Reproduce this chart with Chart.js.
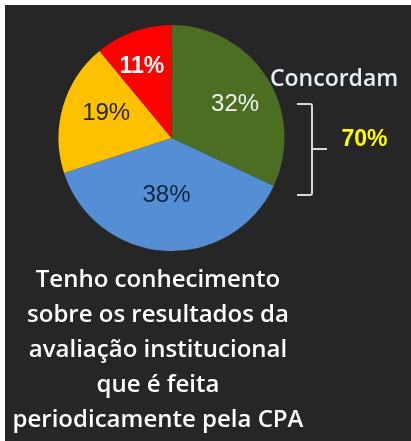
<!DOCTYPE html>
<html>
<head>
<meta charset="utf-8">
<script src="https://cdn.jsdelivr.net/npm/chart.js@4/dist/chart.umd.min.js"></script>
<style>
  html, body { margin: 0; padding: 0; background: #ffffff; width: 411px; height: 441px; overflow: hidden; }
  #box { position: absolute; left: 5px; top: 5px; width: 406px; height: 436px; background: #262626; }
  canvas { display: block; }
</style>
</head>
<body>
<div id="box"><canvas id="c" width="406" height="436"></canvas></div>
<script>
// ---- data ----
const categories = ['Concordo totalmente', 'Concordo parcialmente', 'Discordo parcialmente', 'Discordo totalmente'];
const values = [32, 38, 19, 11];
const agreeGroup = [0, 1];               // slices summed in the "Concordam" bracket
const groupLabel = 'Concordam';
const titleLines = ['Tenho conhecimento', 'sobre os resultados da', 'avaliação institucional', 'que é feita', 'periodicamente pela CPA'];

// ---- styles ----
const sliceColors = ['#4b6e23', '#558ed5', '#ffc000', '#ff0000'];
const labelColors = ['#f2f2f2', '#0f243e', '#262626', '#ffffff'];
const labelWeights = ['normal', 'normal', 'normal', 'bold'];
const labelRadius = [0.64, 0.50, 0.62, 0.69];
const labelAngleShift = [4, 1.5, 5, -2.5]; // degrees

const labelsPlugin = {
  id: 'annot',
  afterDatasetsDraw(chart) {
    const ctx = chart.ctx;
    const meta = chart.getDatasetMeta(0);
    ctx.save();
    ctx.textAlign = 'center';
    ctx.textBaseline = 'middle';
    meta.data.forEach((arc, i) => {
      const p = arc.getProps(['x', 'y', 'startAngle', 'endAngle', 'outerRadius'], true);
      const mid = (p.startAngle + p.endAngle) / 2 + labelAngleShift[i] * Math.PI / 180;
      const r = p.outerRadius * labelRadius[i];
      const x = p.x + Math.cos(mid) * r;
      const y = p.y + Math.sin(mid) * r;
      ctx.fillStyle = labelColors[i];
      ctx.font = labelWeights[i] + ' ' + (labelWeights[i] === 'bold' ? 23 : 24) + 'px "Liberation Sans", Arial, sans-serif';
      ctx.fillText(values[i] + '%', x, y + 1);
    });

    // group label
    ctx.textAlign = 'left';
    ctx.textBaseline = 'alphabetic';
    ctx.fillStyle = '#e6eef8';
    ctx.font = '600 23px "Open Sans", sans-serif';
    ctx.fillText(groupLabel, 265, 81);

    // bracket
    ctx.strokeStyle = '#d9d9d9';
    ctx.lineWidth = 2;
    ctx.lineJoin = 'round';
    ctx.beginPath();
    ctx.moveTo(292, 99);
    ctx.lineTo(305, 99);
    ctx.quadraticCurveTo(307, 99, 307, 101);
    ctx.lineTo(307, 188);
    ctx.quadraticCurveTo(307, 190, 305, 190);
    ctx.lineTo(292, 190);
    ctx.moveTo(307, 144);
    ctx.lineTo(322, 144);
    ctx.stroke();

    // group sum
    const sum = agreeGroup.reduce((s, k) => s + values[k], 0);
    ctx.textAlign = 'center';
    ctx.textBaseline = 'middle';
    ctx.fillStyle = '#ffff00';
    ctx.font = 'bold 23px "Liberation Sans", Arial, sans-serif';
    ctx.fillText(sum + '%', 359.5, 135);

    // bottom title
    ctx.textBaseline = 'alphabetic';
    ctx.fillStyle = '#ffffff';
    ctx.font = '600 24px "Open Sans", sans-serif';
    titleLines.forEach((t, k) => ctx.fillText(t, 153, 282 + k * 35));
    ctx.restore();
  }
};

new Chart(document.getElementById('c'), {
  type: 'pie',
  data: {
    labels: categories,
    datasets: [{ data: values, backgroundColor: sliceColors, borderWidth: 0 }]
  },
  options: {
    responsive: false,
    animation: false,
    layout: { padding: { left: 53, top: 20, right: 126, bottom: 190 } },
    plugins: { legend: { display: false }, tooltip: { enabled: false }, title: { display: false } }
  },
  plugins: [labelsPlugin]
});
</script>
</body>
</html>
